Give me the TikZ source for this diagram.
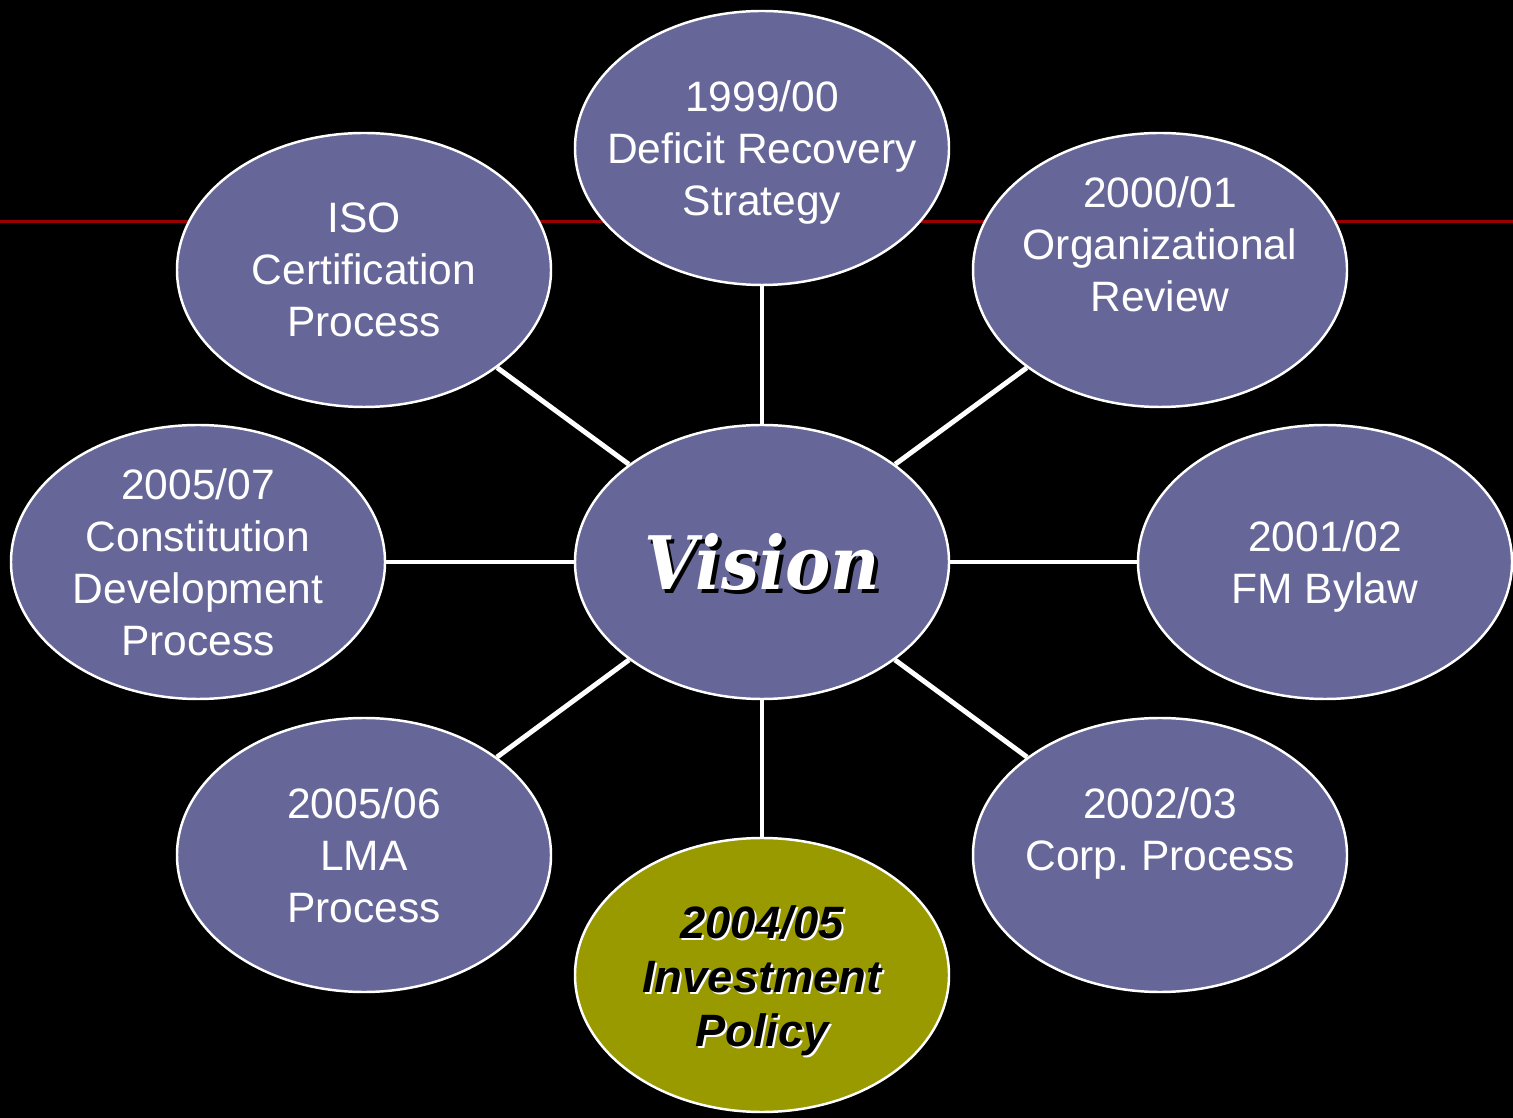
\documentclass[tikz,border=0pt]{standalone}
\usepackage{fontspec}
\setmainfont{Liberation Sans}
\newfontfamily\visionfont[FakeStretch=0.92]{DejaVu Serif}
\usepackage{tikz}
\usetikzlibrary{shapes.geometric}

\definecolor{bubblefill}{HTML}{666699}
\definecolor{olivefill}{HTML}{999900}
\definecolor{darkred}{HTML}{990000}

\tikzset{
    bubble/.style={ellipse,draw=white,line width=0.7pt,fill=bubblefill,
        minimum width=3.74cm,minimum height=2.74cm,inner sep=-1cm,
        text=white,align=center,font=\fontsize{12.1}{14.8}\selectfont},
    spoke/.style={white,line width=1.4pt},
    bigtext/.style={font=\visionfont\fontsize{21}{26}\selectfont\bfseries\itshape},
    boldtext/.style={align=center,font=\fontsize{12.9}{15.4}\selectfont\bfseries\itshape}
}

\begin{document}
\begin{tikzpicture}
    \useasboundingbox (0,0) rectangle (15.13,11.17);
    \fill[black] (-0.05,-0.05) rectangle (15.18,11.22);
    \draw[darkred,line width=0.85pt] (-0.05,8.95) -- (15.18,8.95);

    \node (vision) at (7.62,5.55) [bubble] {};
    \node at ([shift={(0.035,-0.035)}]vision.center) [bigtext,black] {Vision};
    \node (visiontext) at (vision.center) [bigtext,white] {Vision};

    \node (deficit) at (7.62,9.69) [bubble,text depth=-0.03cm] {1999/00\\Deficit Recovery\\Strategy};
    \node (review) at (11.60,8.47) [bubble] {2000/01\\Organizational\\Review\\\mbox{}};
    \node (bylaw) at (13.25,5.55) [bubble,text depth=-0.07cm] {2001/02\\FM Bylaw};
    \node (corp) at (11.60,2.62) [bubble] {2002/03\\Corp.\ Process\\\mbox{}};
    \node (invest) at (7.62,1.42) [bubble,fill=olivefill] {};
    \node at ([shift={(0.02,-0.08)}]invest.center) [boldtext,white] {2004/05\\Investment\\Policy};
    \node (investtext) at ([yshift=-0.06cm]invest.center) [boldtext,black] {2004/05\\Investment\\Policy};
    \node (lma) at (3.64,2.62) [bubble] {2005/06\\LMA\\Process};
    \node (constitution) at (1.98,5.55) [bubble] {2005/07\\Constitution\\Development\\Process};
    \node (iso) at (3.64,8.47) [bubble] {ISO\\Certification\\Process};

    \draw[spoke] (vision) -- (deficit);
    \draw[spoke] (vision) -- (review);
    \draw[spoke] (vision) -- (bylaw);
    \draw[spoke] (vision) -- (corp);
    \draw[spoke] (vision) -- (invest);
    \draw[spoke] (vision) -- (lma);
    \draw[spoke] (vision) -- (constitution);
    \draw[spoke] (vision) -- (iso);
\end{tikzpicture}
\end{document}
